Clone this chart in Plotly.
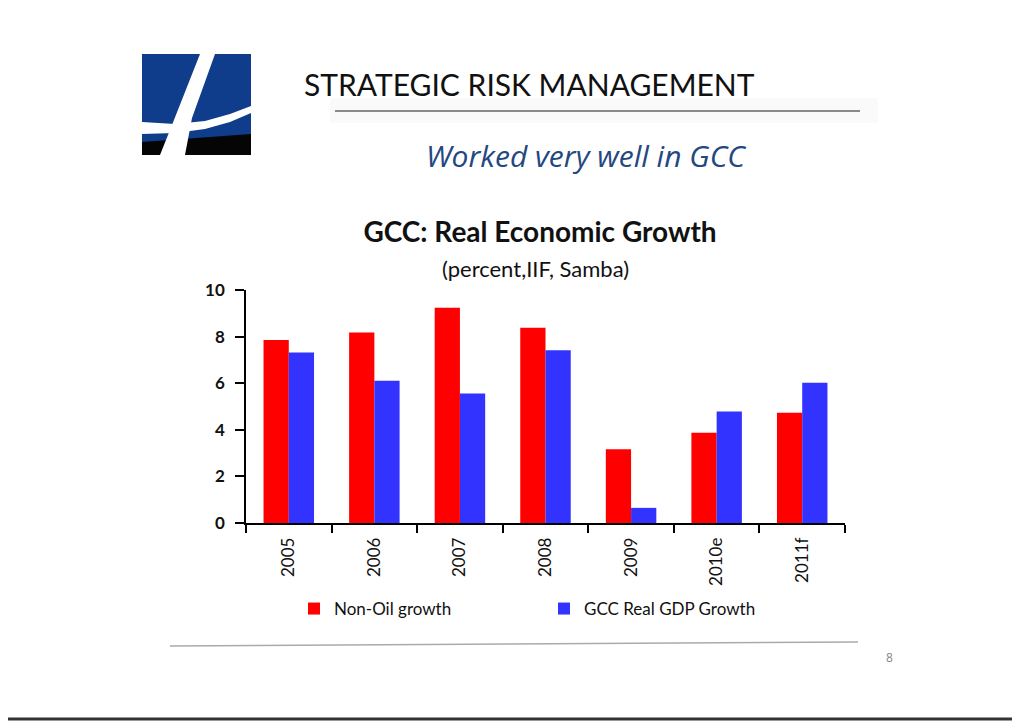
import plotly.graph_objects as go

categories = ["2005", "2006", "2007", "2008", "2009", "2010e", "2011f"]
non_oil_growth = [7.85, 8.18, 9.24, 8.38, 3.17, 3.87, 4.73]
gdp_growth = [7.32, 6.10, 5.56, 7.41, 0.65, 4.79, 6.02]
series_names = ["Non-Oil growth", "GCC Real GDP Growth"]
y_ticks = [0, 2, 4, 6, 8, 10]

OFF = 8  # page body margin
W, H = 1020 - OFF, 721 - OFF
# plot area in page pixels
PL, PR, PT, PB = 246, 845, 290, 523
L, R, T, B = PL - OFF, PR - OFF, PT - OFF, PB - OFF


def xp(px):
    return (px - OFF - L) / (R - L)


def yp(py):
    return (B - (py - OFF)) / (B - T)


def path(points):
    return "M " + " L ".join(f"{xp(x):.5f},{yp(y):.5f}" for x, y in points) + " Z"


fig = go.Figure()
fig.add_trace(go.Bar(x=categories, y=non_oil_growth, name=series_names[0],
                     marker=dict(color="#FF0000", line=dict(width=0))))
fig.add_trace(go.Bar(x=categories, y=gdp_growth, name=series_names[1],
                     marker=dict(color="#3333FF", line=dict(width=0))))

shapes = []
# logo
shapes.append(dict(type="rect", xref="paper", yref="paper",
                   x0=xp(142), x1=xp(251), y0=yp(155), y1=yp(54),
                   fillcolor="#103C8C", line=dict(width=0), layer="above"))
shapes.append(dict(type="path", xref="paper", yref="paper",
                   path=path([(142, 142), (251, 134), (251, 155), (142, 155)]),
                   fillcolor="#050505", line=dict(width=0), layer="above"))
shapes.append(dict(type="path", xref="paper", yref="paper",
                   path=path([(142, 122), (175, 124), (205, 121), (230, 114), (251, 106),
                              (251, 113), (230, 122), (205, 129), (175, 133), (142, 134)]),
                   fillcolor="white", line=dict(width=0), layer="above"))
shapes.append(dict(type="path", xref="paper", yref="paper",
                   path=path([(200, 54), (215, 54), (192, 118), (185, 155), (160, 155),
                              (172, 125)]),
                   fillcolor="white", line=dict(width=0), layer="above"))
# header band and rule
shapes.append(dict(type="rect", xref="paper", yref="paper",
                   x0=xp(330), x1=xp(878), y0=yp(123), y1=yp(98),
                   fillcolor="#FAFAFA", line=dict(width=0), layer="below"))
shapes.append(dict(type="line", xref="paper", yref="paper",
                   x0=xp(335), x1=xp(860), y0=yp(111), y1=yp(111),
                   line=dict(color="#8A8A8A", width=2), layer="above"))
# footer line
shapes.append(dict(type="line", xref="paper", yref="paper",
                   x0=xp(170), x1=xp(858), y0=yp(646), y1=yp(642),
                   line=dict(color="#AAAAAA", width=1.5), layer="above"))
# bottom border
shapes.append(dict(type="line", xref="paper", yref="paper",
                   x0=xp(0), x1=xp(1020), y0=yp(719), y1=yp(719),
                   line=dict(color="#333333", width=3), layer="above"))

annotations = [
    dict(text="STRATEGIC RISK MANAGEMENT", xref="paper", yref="paper",
         x=xp(529), y=yp(84), xanchor="center", yanchor="middle", showarrow=False,
         font=dict(family="Lato", size=30, color="#111111")),
    dict(text="<i>Worked very well in GCC</i>", xref="paper", yref="paper",
         x=xp(586), y=yp(155), xanchor="center", yanchor="middle", showarrow=False,
         font=dict(family="Open Sans", size=30, color="#24487F")),
    dict(text="(percent,IIF, Samba)", xref="paper", yref="paper",
         x=xp(535), y=yp(268), xanchor="center", yanchor="middle", showarrow=False,
         font=dict(family="Lato", size=22, color="#111111")),
    dict(text="8", xref="paper", yref="paper",
         x=xp(889), y=yp(657), xanchor="center", yanchor="middle", showarrow=False,
         font=dict(family="Open Sans", size=12, color="#888888")),
]

fig.update_layout(
    width=W, height=H,
    margin=dict(l=L, r=W - R, t=T, b=H - B),
    paper_bgcolor="white", plot_bgcolor="white",
    barmode="group", bargap=0.41, bargroupgap=0,
    title=dict(text="<b>GCC: Real Economic Growth</b>",
               x=xp(540), xref="paper", xanchor="center",
               y=1 - (232 - OFF) / H, yref="container", yanchor="middle",
               font=dict(family="Lato", size=28, color="#111111")),
    font=dict(family="Lato", color="#111111"),
    xaxis=dict(type="category", showline=True, linecolor="black", linewidth=1.5,
               ticks="outside", ticklen=8, tickcolor="black", tickwidth=1.5,
               tickson="boundaries", tickangle=-90, showgrid=False,
               ticklabelstandoff=6,
               tickfont=dict(family="Lato", size=17, color="#111111")),
    yaxis=dict(range=[0, 10], tickvals=y_ticks, showline=True, linecolor="black",
               linewidth=1.5, ticks="outside", ticklen=9, tickcolor="black",
               tickwidth=1.5, showgrid=False, zeroline=False, ticklabelstandoff=7,
               tickfont=dict(family="Lato", size=17, color="#111111", weight="bold")),
    legend=dict(orientation="h", x=xp(294), y=yp(609), xanchor="left", yanchor="middle",
                entrywidth=205, entrywidthmode="pixels",
                font=dict(family="Lato", size=17, color="#111111"),
                bgcolor="rgba(0,0,0,0)"),
    shapes=shapes,
    annotations=annotations,
)

fig.write_html("out.html")
